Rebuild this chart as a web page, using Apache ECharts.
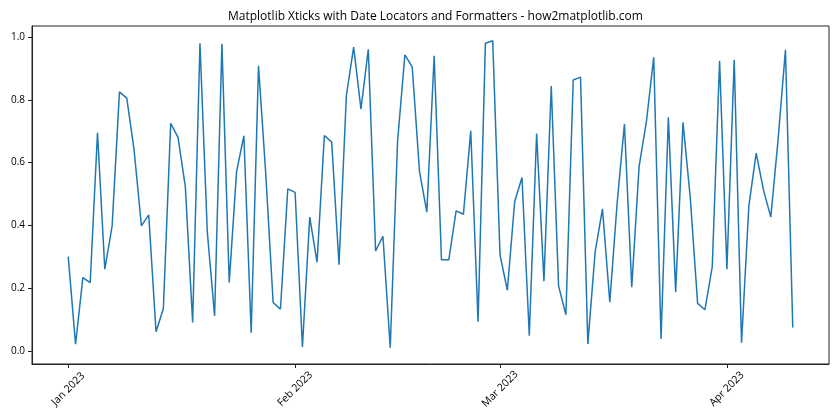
<!DOCTYPE html>
<html>
<head>
<meta charset="utf-8">
<script src="https://cdn.jsdelivr.net/npm/echarts@6/dist/echarts.min.js"></script>
<style>
  html, body { margin: 0; padding: 0; background: #fff; }
  #main { width: 840px; height: 420px; }
</style>
</head>
<body>
<div id="main"></div>
<script>
// daily values, 1 Jan 2023 .. 10 Apr 2023 (day index 0..99)
var values = [
  0.300, 0.021, 0.233, 0.217, 0.695, 0.260, 0.398, 0.825, 0.805, 0.640,
  0.398, 0.433, 0.061, 0.135, 0.725, 0.680, 0.523, 0.090, 0.980, 0.380,
  0.111, 0.978, 0.218, 0.571, 0.685, 0.058, 0.908, 0.560, 0.154, 0.133,
  0.516, 0.505, 0.012, 0.426, 0.282, 0.686, 0.665, 0.274, 0.812, 0.968,
  0.770, 0.961, 0.318, 0.365, 0.010, 0.667, 0.943, 0.905, 0.571, 0.442,
  0.940, 0.290, 0.290, 0.446, 0.435, 0.701, 0.093, 0.980, 0.988, 0.306,
  0.193, 0.475, 0.552, 0.048, 0.692, 0.222, 0.844, 0.207, 0.115, 0.863,
  0.872, 0.022, 0.316, 0.452, 0.155, 0.470, 0.723, 0.203, 0.587, 0.730,
  0.935, 0.038, 0.744, 0.187, 0.728, 0.486, 0.151, 0.131, 0.268, 0.924,
  0.260, 0.927, 0.026, 0.462, 0.630, 0.512, 0.426, 0.675, 0.959, 0.074
];
var days = values.map(function (v, i) { return i; });

// month starts as day index, with their labels
var tickDays = [0, 31, 59, 90];
var tickLabels = ['Jan 2023', 'Feb 2023', 'Mar 2023', 'Apr 2023'];
var yTicks = [0, 0.2, 0.4, 0.6, 0.8, 1.0];

var myChart = echarts.init(document.getElementById('main'));
var option = {
  animation: false,
  backgroundColor: '#fff',
  title: {
    text: 'Matplotlib Xticks with Date Locators and Formatters - how2matplotlib.com',
    left: 223,
    top: 6,
    textStyle: { fontFamily: 'Open Sans', fontSize: 12, fontWeight: 'normal', color: '#000' }
  },
  grid: {
    left: 32, right: 11, top: 26, bottom: 56,
    show: true, borderColor: '#222', borderWidth: 1
  },
  xAxis: {
    type: 'value',
    min: -4.95,
    max: 103.95,
    axisLine: { show: true, onZero: false, lineStyle: { color: '#222', width: 1 } },
    axisTick: { show: true, length: 4, customValues: tickDays, lineStyle: { color: '#222' } },
    axisLabel: {
      customValues: tickDays,
      rotate: 45,
      align: 'center',
      verticalAlign: 'middle',
      margin: 25,
      fontFamily: 'Open Sans',
      fontSize: 10.5,
      color: '#000',
      formatter: function (v) { return tickLabels[tickDays.indexOf(v)]; }
    },
    splitLine: { show: false }
  },
  yAxis: {
    type: 'value',
    min: -0.042,
    max: 1.035,
    axisLine: { show: true, onZero: false, lineStyle: { color: '#222', width: 1 } },
    axisTick: { show: true, length: 4, customValues: yTicks, lineStyle: { color: '#222' } },
    axisLabel: {
      customValues: yTicks,
      margin: 7,
      fontFamily: 'Open Sans',
      fontSize: 10,
      color: '#000',
      formatter: function (v) { return v.toFixed(1); }
    },
    splitLine: { show: false }
  },
  series: [
    {
      type: 'line',
      data: days.map(function (d, i) { return [d, values[i]]; }),
      showSymbol: false,
      lineStyle: { color: '#1f77b4', width: 1.5 },
      itemStyle: { color: '#1f77b4' }
    }
  ]
};
myChart.setOption(option);
</script>
</body>
</html>
